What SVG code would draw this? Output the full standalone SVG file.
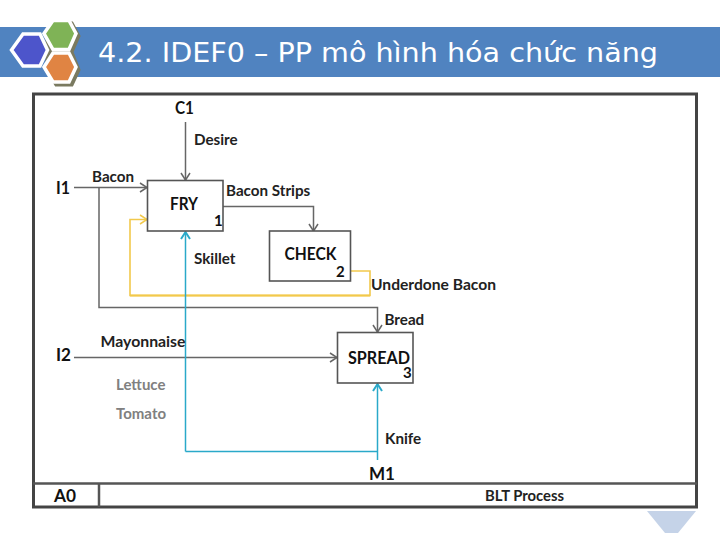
<svg xmlns="http://www.w3.org/2000/svg" width="720" height="540" viewBox="0 0 720 540">
<style>
text{font-family:"Lato","Liberation Sans",sans-serif;font-weight:700;fill:#222}
.sm{font-size:15.2px}
.big{font-size:16.5px;fill:#111}
.dg{font-size:15px;fill:#111}
.mut{font-size:15px;fill:#808080}
.box{fill:#fff;stroke:#555;stroke-width:1.6}
.g{fill:none;stroke:#666;stroke-width:1.5}
.y{fill:none;stroke:#f2c94c;stroke-width:1.6}
.b{fill:none;stroke:#2aa9c9;stroke-width:1.5}
.fr{fill:none;stroke:#444;stroke-width:3}
.hs{fill:#7a7a60;stroke:#7a7a60;stroke-width:3}
.hw{stroke:#fff;stroke-width:3.5}
</style>
<defs>
<marker id="ag" markerUnits="userSpaceOnUse" markerWidth="12" markerHeight="12" refX="9" refY="6" orient="auto"><path d="M2 1.500L9 6L2 10.500" fill="none" stroke="#666" stroke-width="1.500"/></marker>
<marker id="ay" markerUnits="userSpaceOnUse" markerWidth="12" markerHeight="12" refX="9" refY="6" orient="auto"><path d="M2 1.500L9 6L2 10.500" fill="none" stroke="#f2c94c" stroke-width="1.500"/></marker>
<marker id="ab" markerUnits="userSpaceOnUse" markerWidth="12" markerHeight="12" refX="9" refY="6" orient="auto"><path d="M2 1.500L9 6L2 10.500" fill="none" stroke="#2aa9c9" stroke-width="2"/></marker>
</defs>
<g id="header">
<rect x="0" y="27" width="720" height="50" fill="#5083c0"/>
<text x="98" y="62" style="font-family:'DejaVu Sans',Verdana,sans-serif;font-weight:400;font-size:27px;fill:#fff" textLength="560" lengthAdjust="spacingAndGlyphs">4.2. IDEF0 – PP mô hình hóa chức năng</text>
<g id="logo">
<polygon class="hs" points="47,34 56,23 72,23 79,36 72,52 79,70 72,85 56,85 47,70"/>
<polygon class="hw" points="11.500,50 23,34 40,34 47.500,50 40,66 23,66" fill="#4d55cb"/>
<polygon class="hw" points="44,33.500 53,20.500 69,20.500 76,33.500 69,49.500 53,49.500" fill="#7fb356"/>
<polygon class="hw" points="44,67 53,53 69,53 76,67 69,82 53,82" fill="#e08443"/>
</g>
</g>
<g id="frame">
<rect class="fr" x="33.500" y="94" width="663" height="413" fill="#fff"/>
<path d="M33 483.500H697" stroke="#555" stroke-width="2.500" fill="none"/>
<path d="M99 483V507" stroke="#555" stroke-width="2.500" fill="none"/>
<text class="big" x="54" y="502" textLength="22" lengthAdjust="spacingAndGlyphs">A0</text>
<text class="sm" x="485" y="500.500" textLength="79" lengthAdjust="spacingAndGlyphs">BLT Process</text>
</g>
<g id="connectors">
<path class="g" d="M185.500 122V180" marker-end="url(#ag)"/>
<path class="g" d="M74 187.500H147" marker-end="url(#ag)"/>
<path class="g" d="M99 187.500V307.500H377.500V332" marker-end="url(#ag)"/>
<path class="g" d="M223 206.500H313.500V231" marker-end="url(#ag)"/>
<path class="g" d="M74 357.500H337" marker-end="url(#ag)"/>
<path class="y" d="M351 271H370V295.500H130V219.500H147" marker-end="url(#ay)"/>
<path d="M130 295.500H370" style="fill:none;stroke:#f2c94c;stroke-width:2.500;opacity:.7"/>
<path class="b" d="M185.500 451.500V232" marker-end="url(#ab)"/>
<path class="b" d="M185.500 451.500H377.500"/>
<path class="b" d="M377.500 460V384" marker-end="url(#ab)"/>
</g>
<g id="fry">
<rect class="box" x="147.500" y="180.500" width="75.500" height="50.500"/>
<text class="big" x="170" y="210" textLength="28" lengthAdjust="spacingAndGlyphs">FRY</text>
<text class="dg" x="214" y="226">1</text>
</g>
<g id="check">
<rect class="box" x="269.500" y="231" width="81" height="50"/>
<text class="big" x="284.500" y="259.500" textLength="52" lengthAdjust="spacingAndGlyphs">CHECK</text>
<text class="dg" x="336" y="277">2</text>
</g>
<g id="spread">
<rect class="box" x="337.500" y="332.500" width="75.500" height="50.500"/>
<text class="big" x="348" y="364" textLength="62" lengthAdjust="spacingAndGlyphs">SPREAD</text>
<text class="dg" x="403" y="378">3</text>
</g>
<g id="labels">
<text class="big" x="175" y="114" textLength="19" lengthAdjust="spacingAndGlyphs">C1</text>
<text class="sm" x="194" y="145">Desire</text>
<text class="big" x="56" y="194" textLength="14" lengthAdjust="spacingAndGlyphs">I1</text>
<text class="sm" x="92" y="182">Bacon</text>
<text class="sm" x="226" y="196">Bacon Strips</text>
<text class="sm" x="194" y="264">Skillet</text>
<text class="sm" x="371" y="290" textLength="125" lengthAdjust="spacingAndGlyphs">Underdone Bacon</text>
<text class="sm" x="384.500" y="325">Bread</text>
<text class="big" x="56" y="361" textLength="15" lengthAdjust="spacingAndGlyphs">I2</text>
<text class="sm" x="100.500" y="347" textLength="85" lengthAdjust="spacingAndGlyphs">Mayonnaise</text>
<text class="mut" x="116" y="390">Lettuce</text>
<text class="mut" x="116" y="419">Tomato</text>
<text class="sm" x="385" y="444">Knife</text>
<text class="big" x="369" y="480" textLength="26" lengthAdjust="spacingAndGlyphs">M1</text>
</g>
<polygon id="corner" points="647,511 696,511 678,533 665,533" fill="#c5d3e8"/>
</svg>
